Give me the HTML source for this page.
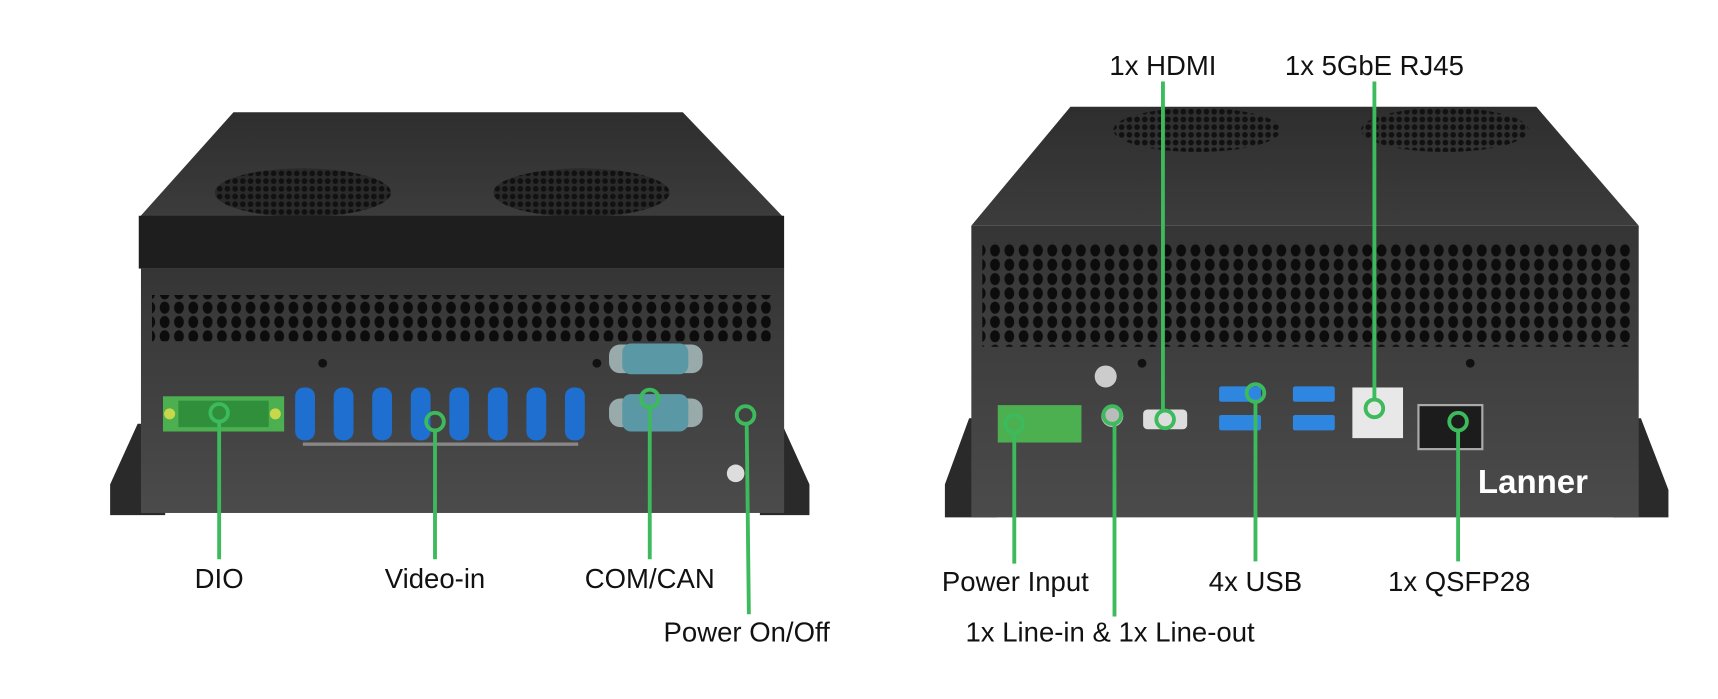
<!DOCTYPE html>
<html><head><meta charset="utf-8"><style>
html,body{margin:0;padding:0;background:#fff;width:1718px;height:699px;overflow:hidden}
svg{display:block}
text{font-family:"Liberation Sans",sans-serif;font-size:25px;fill:#111;text-anchor:middle}
</style></head><body>
<svg width="1718" height="699" viewBox="0 0 1560 635" preserveAspectRatio="none" xmlns="http://www.w3.org/2000/svg">
<defs>
<pattern id="vent" x="0" y="0" width="13" height="13" patternUnits="userSpaceOnUse">
<ellipse cx="6.5" cy="6.5" rx="4.5" ry="5.5" fill="#0c0c0c"/>
</pattern>
<pattern id="fan" x="0" y="0" width="7" height="7" patternUnits="userSpaceOnUse">
<circle cx="3.5" cy="3.5" r="2.6" fill="#111"/>
</pattern>
<linearGradient id="lid" x1="0" y1="0" x2="0" y2="1"><stop offset="0" stop-color="#2e2e2e"/><stop offset="1" stop-color="#3c3c3c"/></linearGradient>
<linearGradient id="front" x1="0" y1="0" x2="0" y2="1"><stop offset="0" stop-color="#353535"/><stop offset="1" stop-color="#4b4b4b"/></linearGradient>
</defs>

<!-- LEFT DEVICE -->
<polygon points="100,440 125,385 150,385 150,468 100,468" fill="#2a2a2a"/>
<polygon points="735,440 710,385 690,385 690,468 735,468" fill="#2a2a2a"/>
<polygon points="212,102 620,102 712,198 126,198" fill="url(#lid)"/>
<ellipse cx="275" cy="175" rx="80" ry="22" fill="#2a2a2a"/>
<ellipse cx="275" cy="175" rx="80" ry="22" fill="url(#fan)"/>
<ellipse cx="528" cy="175" rx="80" ry="22" fill="#2a2a2a"/>
<ellipse cx="528" cy="175" rx="80" ry="22" fill="url(#fan)"/>
<rect x="126" y="196" width="586" height="48" fill="#1e1e1e"/>
<rect x="128" y="244" width="584" height="222" fill="url(#front)"/>
<rect x="138" y="268" width="562" height="42" fill="url(#vent)"/>
<circle cx="293" cy="330" r="4" fill="#111"/><circle cx="542" cy="330" r="4" fill="#111"/>
<!-- DIO -->
<rect x="148" y="360" width="110" height="32" fill="#4caf50"/>
<rect x="162" y="364" width="82" height="24" fill="#2f8f3a"/>
<circle cx="154" cy="376" r="5" fill="#c8d84a"/><circle cx="250" cy="376" r="5" fill="#c8d84a"/>
<!-- BNC -->
<g fill="#1f6fd0">
<rect x="268" y="352" width="18" height="48" rx="8"/><rect x="303" y="352" width="18" height="48" rx="8"/>
<rect x="338" y="352" width="18" height="48" rx="8"/><rect x="373" y="352" width="18" height="48" rx="8"/>
<rect x="408" y="352" width="18" height="48" rx="8"/><rect x="443" y="352" width="18" height="48" rx="8"/>
<rect x="478" y="352" width="18" height="48" rx="8"/><rect x="513" y="352" width="18" height="48" rx="8"/>
</g>
<rect x="275" y="402" width="250" height="3" fill="#888"/>
<!-- COM -->
<rect x="553" y="313" width="85" height="26" rx="10" fill="#9aa"/>
<rect x="565" y="312" width="60" height="28" rx="8" fill="#5b98a6"/>
<rect x="553" y="362" width="85" height="26" rx="10" fill="#9aa"/>
<rect x="565" y="358" width="60" height="34" rx="8" fill="#5b98a6"/>
<circle cx="668" cy="430" r="8" fill="#ddd"/>
<!-- RIGHT DEVICE -->
<polygon points="858,440 880,380 905,380 905,470 858,470" fill="#2a2a2a"/>
<polygon points="1515,445 1490,380 1465,380 1465,470 1515,470" fill="#2a2a2a"/>
<polygon points="972,97 1395,97 1488,205 882,205" fill="url(#lid)"/>
<ellipse cx="1087" cy="118" rx="76" ry="20" fill="url(#fan)"/>
<ellipse cx="1312" cy="118" rx="76" ry="20" fill="url(#fan)"/>
<rect x="882" y="205" width="606" height="265" fill="url(#front)"/>
<rect x="892" y="220" width="588" height="95" fill="url(#vent)"/>
<circle cx="1037" cy="330" r="4" fill="#111"/><circle cx="1335" cy="330" r="4" fill="#111"/>
<rect x="906" y="368" width="76" height="34" fill="#4caf50"/>
<circle cx="1004" cy="342" r="10" fill="#ccc"/><circle cx="1010" cy="378" r="10" fill="#bbb"/>
<rect x="1038" y="372" width="40" height="18" rx="4" fill="#ddd"/>
<g fill="#2f86e0">
<rect x="1107" y="351" width="38" height="14" rx="2"/><rect x="1174" y="351" width="38" height="14" rx="2"/>
<rect x="1107" y="377" width="38" height="14" rx="2"/><rect x="1174" y="377" width="38" height="14" rx="2"/>
</g>
<rect x="1228" y="352" width="46" height="46" fill="#e8e8e8"/>
<rect x="1288" y="368" width="58" height="40" fill="#1c1c1c" stroke="#aaa" stroke-width="2"/>
<text x="1392" y="448" style="fill:#fff;font-size:30px;font-weight:bold">Lanner</text>

<!-- CALLOUTS -->
<g stroke="#3cba5c" stroke-width="3.5" fill="none">
<line x1="199" y1="382" x2="199" y2="508"/><circle cx="199" cy="375" r="8"/>
<line x1="395" y1="390" x2="395" y2="508"/><circle cx="395" cy="383" r="8"/>
<line x1="590" y1="370" x2="590" y2="508"/><circle cx="590" cy="362" r="8"/>
<line x1="678" y1="384" x2="680" y2="558"/><circle cx="677" cy="377" r="8"/>
<line x1="921" y1="392" x2="921" y2="512"/><circle cx="921" cy="385" r="8"/>
<line x1="1012" y1="384" x2="1012" y2="560"/><circle cx="1010" cy="377" r="8"/>
<line x1="1056" y1="74" x2="1056" y2="374"/><circle cx="1058" cy="381" r="8"/>
<line x1="1248" y1="74" x2="1248" y2="364"/><circle cx="1248" cy="371" r="8"/>
<line x1="1140" y1="364" x2="1140" y2="510"/><circle cx="1140" cy="357" r="8"/>
<line x1="1324" y1="390" x2="1324" y2="510"/><circle cx="1324" cy="383" r="8"/>
</g>
<text x="199" y="534">DIO</text>
<text x="395" y="534">Video-in</text>
<text x="590" y="534">COM/CAN</text>
<text x="678" y="583">Power On/Off</text>
<text x="922" y="537">Power Input</text>
<text x="1008" y="583">1x Line-in &amp; 1x Line-out</text>
<text x="1140" y="537">4x USB</text>
<text x="1325" y="537">1x QSFP28</text>
<text x="1056" y="68">1x HDMI</text>
<text x="1248" y="68">1x 5GbE RJ45</text>
</svg>
</body></html>
